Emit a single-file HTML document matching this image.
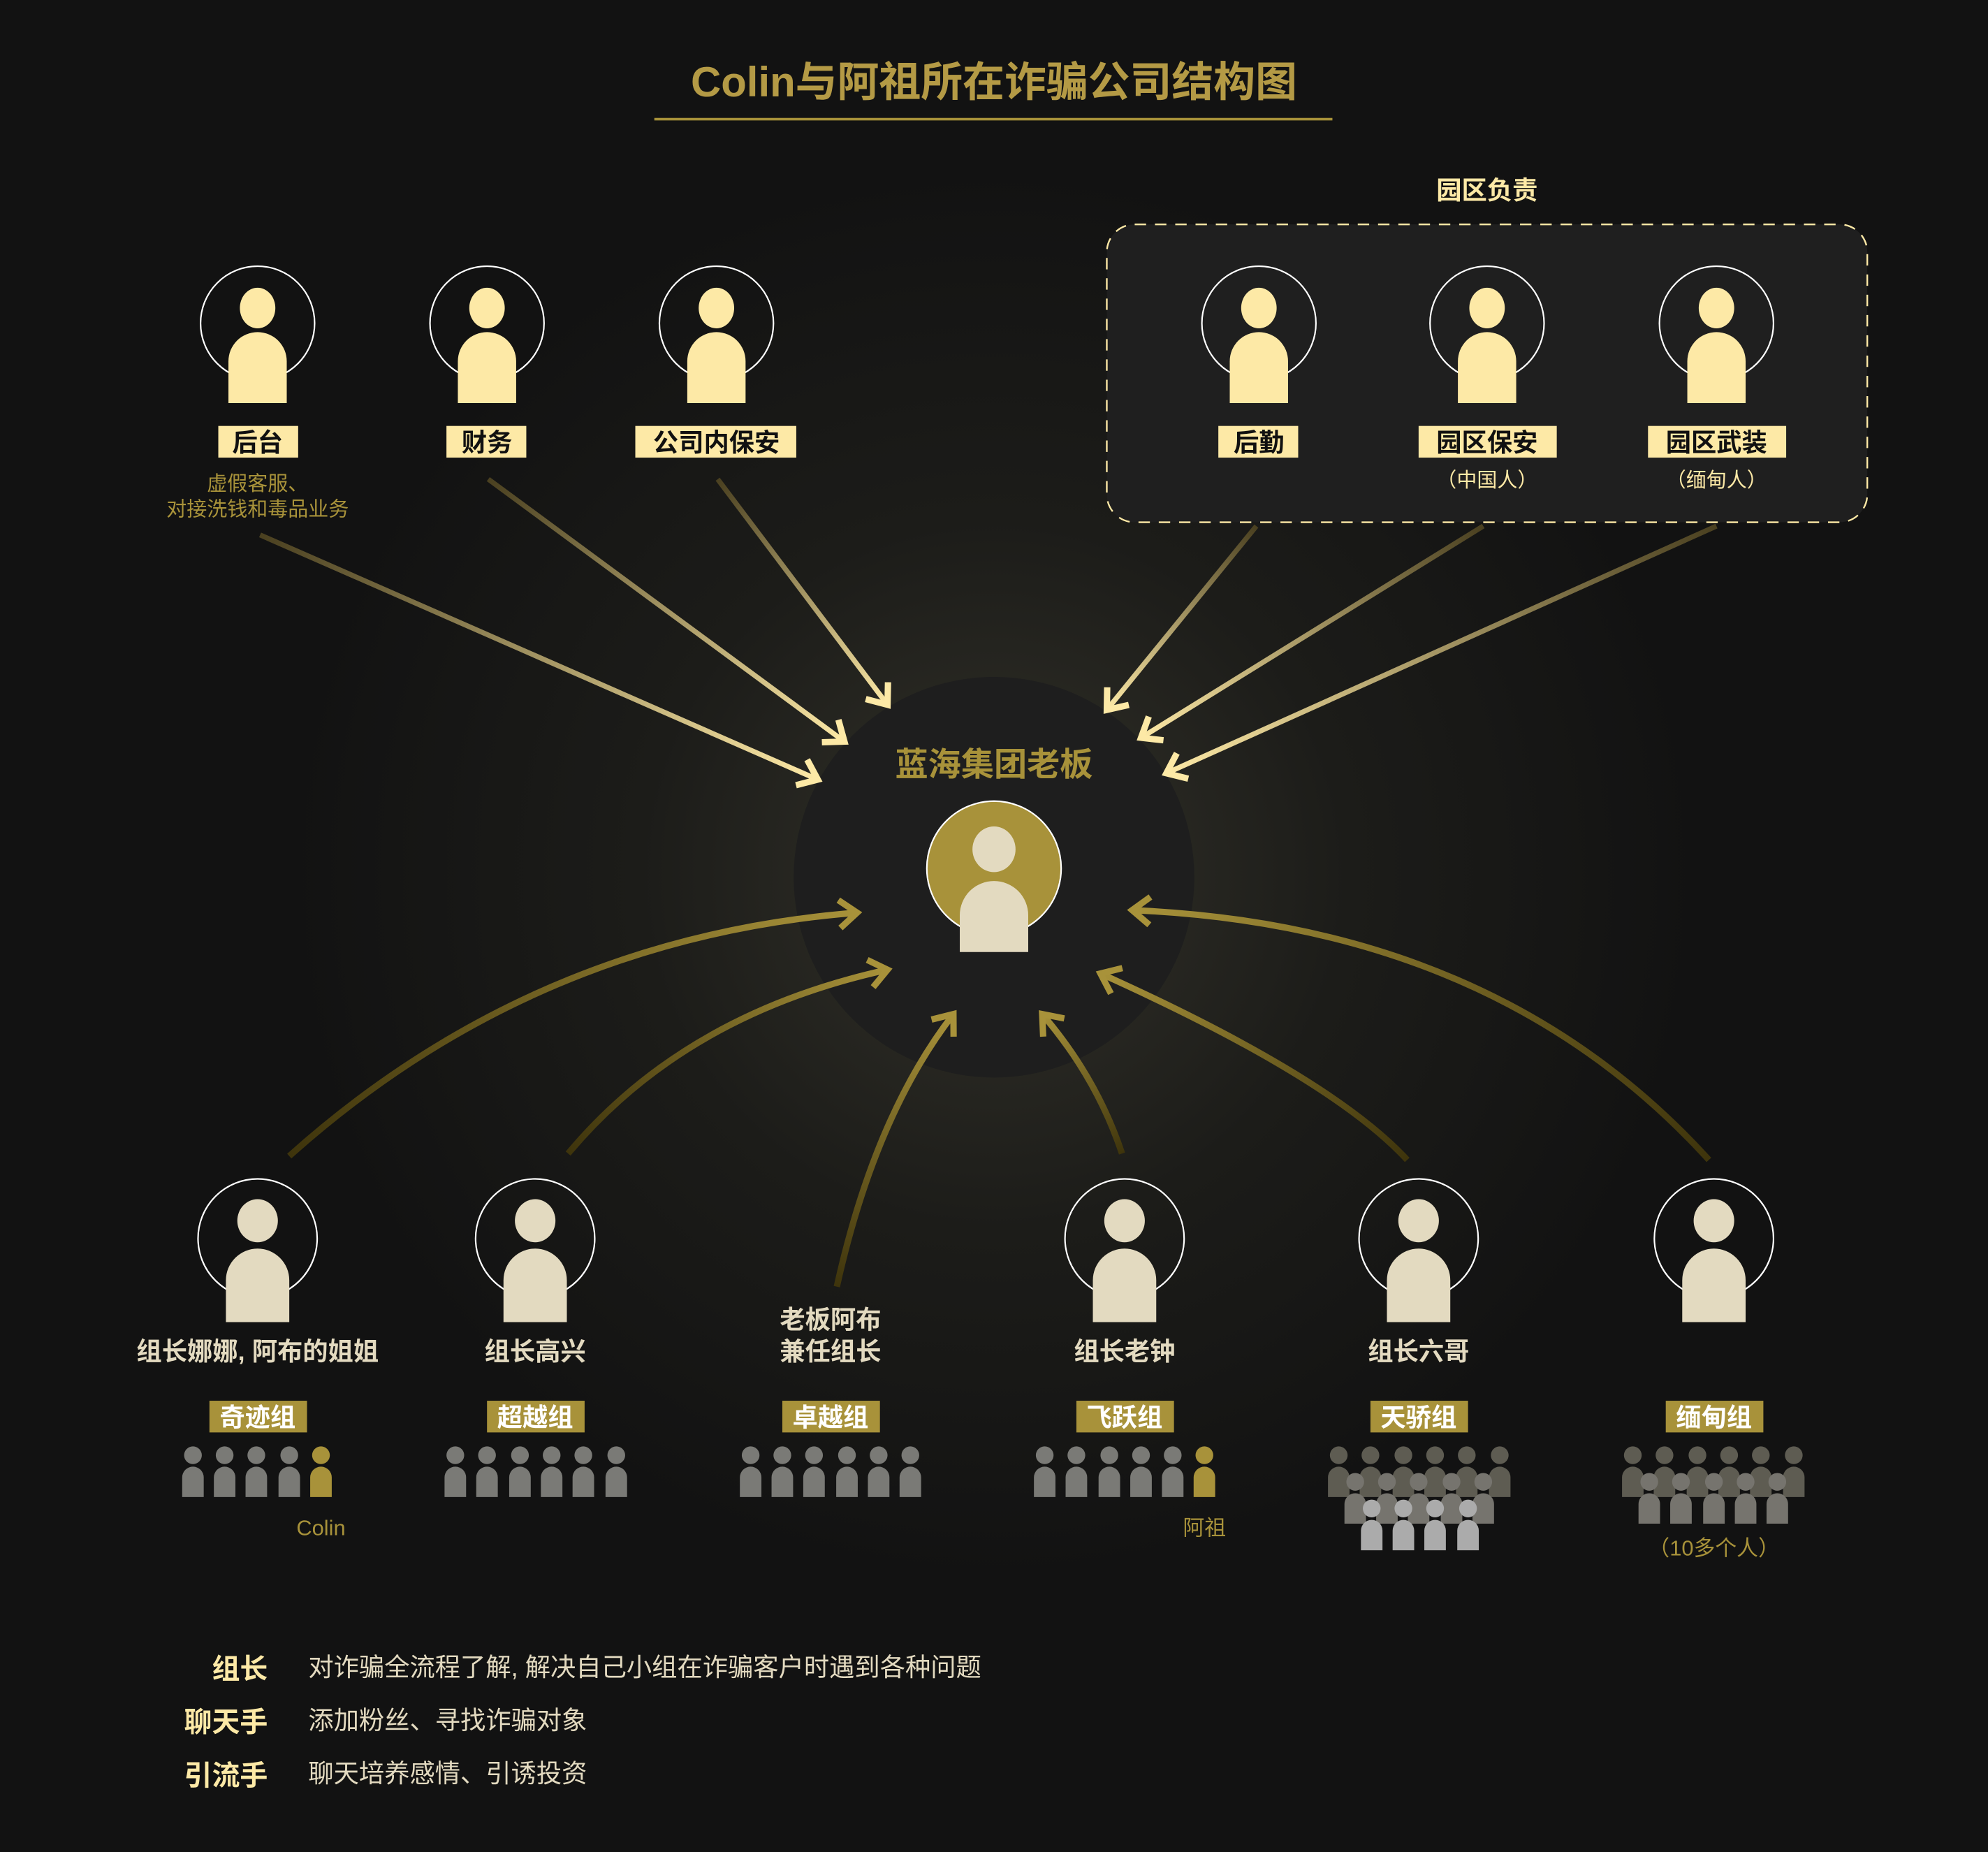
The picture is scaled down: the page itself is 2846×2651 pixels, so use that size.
<!DOCTYPE html>
<html><head><meta charset="utf-8"><style>html,body{margin:0;padding:0;background:#121212}svg{display:block}</style></head>
<body>
<svg width="2846" height="2651" viewBox="0 0 1568 1461" xmlns="http://www.w3.org/2000/svg" font-family="'Liberation Sans','Noto Sans CJK SC',sans-serif">
<defs>
<radialGradient id="glow" cx="784" cy="690" r="560" gradientUnits="userSpaceOnUse">
<stop offset="0" stop-color="#33322a"/><stop offset="0.5" stop-color="#1c1c19"/><stop offset="1" stop-color="#121212"/>
</radialGradient>
<g id="pT"><circle r="45" fill="none" stroke="#fff" stroke-width="1.2"/><ellipse cy="-12" rx="14" ry="16" fill="#fde9a6"/><path d="M-23,63 V30 A23,23 0 0 1 23,30 V63 Z" fill="#fde9a6"/></g>
<g id="pB"><circle r="47" fill="none" stroke="#fff" stroke-width="1.2"/><ellipse cy="-14" rx="16" ry="17" fill="#e3dac0"/><path d="M-25,66 V33 A25,25 0 0 1 25,33 V66 Z" fill="#e3dac0"/></g>
<g id="sp"><circle r="7"/><path d="M-8.5,33 V17.5 A8.5,8.5 0 0 1 8.5,17.5 V33 Z"/></g>
<marker id="mY" markerUnits="userSpaceOnUse" markerWidth="40" markerHeight="40" refX="0" refY="0" viewBox="-20 -20 40 40" orient="auto" overflow="visible"><path d="M-14,-11 L0,0 L-14,11" fill="none" stroke="#fde9a6" stroke-width="5"/></marker>
<marker id="mG" markerUnits="userSpaceOnUse" markerWidth="40" markerHeight="40" refX="0" refY="0" viewBox="-20 -20 40 40" orient="auto" overflow="visible"><path d="M-14,-11 L0,0 L-14,11" fill="none" stroke="#a8923a" stroke-width="5"/></marker>
<linearGradient id="t1" gradientUnits="userSpaceOnUse" x1="205" y1="422" x2="645" y2="615"><stop offset="0" stop-color="#4a4020"/><stop offset="1" stop-color="#fde9a6"/></linearGradient>
<linearGradient id="t2" gradientUnits="userSpaceOnUse" x1="385" y1="378" x2="666" y2="585"><stop offset="0" stop-color="#4a4020"/><stop offset="1" stop-color="#fde9a6"/></linearGradient>
<linearGradient id="t3" gradientUnits="userSpaceOnUse" x1="566" y1="378" x2="700" y2="556"><stop offset="0" stop-color="#4a4020"/><stop offset="1" stop-color="#fde9a6"/></linearGradient>
<linearGradient id="t4" gradientUnits="userSpaceOnUse" x1="991" y1="415" x2="873" y2="560"><stop offset="0" stop-color="#4a4020"/><stop offset="1" stop-color="#fde9a6"/></linearGradient>
<linearGradient id="t5" gradientUnits="userSpaceOnUse" x1="1170" y1="415" x2="900" y2="582"><stop offset="0" stop-color="#4a4020"/><stop offset="1" stop-color="#fde9a6"/></linearGradient>
<linearGradient id="t6" gradientUnits="userSpaceOnUse" x1="1354" y1="415" x2="920" y2="610"><stop offset="0" stop-color="#4a4020"/><stop offset="1" stop-color="#fde9a6"/></linearGradient>
<linearGradient id="b1" gradientUnits="userSpaceOnUse" x1="228" y1="912" x2="676" y2="720"><stop offset="0" stop-color="#3e340c"/><stop offset="1" stop-color="#a8923a"/></linearGradient>
<linearGradient id="b2" gradientUnits="userSpaceOnUse" x1="448" y1="910" x2="700" y2="765"><stop offset="0" stop-color="#3e340c"/><stop offset="1" stop-color="#a8923a"/></linearGradient>
<linearGradient id="b3" gradientUnits="userSpaceOnUse" x1="660" y1="1015" x2="752" y2="800"><stop offset="0" stop-color="#3e340c"/><stop offset="1" stop-color="#a8923a"/></linearGradient>
<linearGradient id="b4" gradientUnits="userSpaceOnUse" x1="885" y1="910" x2="822" y2="800"><stop offset="0" stop-color="#3e340c"/><stop offset="1" stop-color="#a8923a"/></linearGradient>
<linearGradient id="b5" gradientUnits="userSpaceOnUse" x1="1110" y1="915" x2="868" y2="768"><stop offset="0" stop-color="#3e340c"/><stop offset="1" stop-color="#a8923a"/></linearGradient>
<linearGradient id="b6" gradientUnits="userSpaceOnUse" x1="1348" y1="915" x2="893" y2="718"><stop offset="0" stop-color="#3e340c"/><stop offset="1" stop-color="#a8923a"/></linearGradient>
</defs>
<rect width="1568" height="1461" fill="#121212"/>
<rect width="1568" height="1461" fill="url(#glow)"/>

<text x="784" y="76" text-anchor="middle" font-size="33" font-weight="bold" fill="#b49a45">Colin与阿祖所在诈骗公司结构图</text>
<line x1="516" y1="94" x2="1051" y2="94" stroke="#a8923a" stroke-width="2"/>

<text x="1173" y="157" text-anchor="middle" font-size="20" font-weight="bold" fill="#fde9a6">园区负责</text>
<rect x="873" y="177" width="600" height="235" rx="22" fill="#1f1f1f" stroke="#fde9a6" stroke-width="1.3" stroke-dasharray="9,7"/>

<circle cx="784" cy="692" r="158" fill="#1e1e1e"/>

<g stroke-width="4" fill="none" marker-end="url(#mY)">
<line x1="205" y1="422" x2="645" y2="615" stroke="url(#t1)"/>
<line x1="385" y1="378" x2="666" y2="585" stroke="url(#t2)"/>
<line x1="566" y1="378" x2="700" y2="556" stroke="url(#t3)"/>
<line x1="991" y1="415" x2="873" y2="560" stroke="url(#t4)"/>
<line x1="1170" y1="415" x2="900" y2="582" stroke="url(#t5)"/>
<line x1="1354" y1="415" x2="920" y2="610" stroke="url(#t6)"/>
</g>
<g stroke-width="5" fill="none" marker-end="url(#mG)">
<path d="M228,912 Q420,740 676,720" stroke="url(#b1)"/>
<path d="M448,910 Q540,800 700,765" stroke="url(#b2)"/>
<path d="M660,1015 Q690,880 752,800" stroke="url(#b3)"/>
<path d="M885,910 Q865,850 822,800" stroke="url(#b4)"/>
<path d="M1110,915 Q1050,850 868,768" stroke="url(#b5)"/>
<path d="M1348,915 Q1180,730 893,718" stroke="url(#b6)"/>
</g>

<text x="784" y="612" text-anchor="middle" font-size="26" font-weight="bold" fill="#a8923a">蓝海集团老板</text>
<circle cx="784" cy="685" r="53" fill="#a8923a" stroke="#fff" stroke-width="1.2"/>
<ellipse cx="784" cy="670" rx="17" ry="18" fill="#e3dac0"/>
<path d="M757,751 V722 A27,27 0 0 1 811,722 V751 Z" fill="#e3dac0"/>

<use href="#pT" x="203" y="255"/><use href="#pT" x="384" y="255"/><use href="#pT" x="565" y="255"/>
<use href="#pT" x="993" y="255"/><use href="#pT" x="1173" y="255"/><use href="#pT" x="1354" y="255"/>
<g fill="#fde9a6">
<rect x="172" y="336" width="63" height="25"/><rect x="352" y="336" width="63" height="25"/><rect x="501" y="336" width="127" height="25"/>
<rect x="961" y="336" width="63" height="25"/><rect x="1119" y="336" width="109" height="25"/><rect x="1300" y="336" width="109" height="25"/>
</g>
<g font-size="20" font-weight="bold" fill="#111" text-anchor="middle">
<text x="203" y="356">后台</text><text x="384" y="356">财务</text><text x="565" y="356">公司内保安</text>
<text x="993" y="356">后勤</text><text x="1173" y="356">园区保安</text><text x="1354" y="356">园区武装</text>
</g>
<g font-size="16" fill="#a8923a" text-anchor="middle">
<text x="203" y="387">虚假客服、</text><text x="203" y="407">对接洗钱和毒品业务</text>
</g>
<g font-size="16" fill="#fde9a6" text-anchor="middle">
<text x="1173" y="384">（中国人）</text><text x="1354" y="384">（缅甸人）</text>
</g>

<use href="#pB" x="203" y="977"/><use href="#pB" x="422" y="977"/><use href="#pB" x="887" y="977"/><use href="#pB" x="1119" y="977"/><use href="#pB" x="1352" y="977"/>
<g font-size="20" font-weight="bold" fill="#e3dac0" text-anchor="middle">
<text x="203" y="1073">组长娜娜, 阿布的姐姐</text><text x="422" y="1073">组长高兴</text>
<text x="655" y="1048">老板阿布</text><text x="655" y="1073">兼任组长</text>
<text x="887" y="1073">组长老钟</text><text x="1119" y="1073">组长六哥</text>
</g>
<g fill="#a8923a">
<rect x="165" y="1105" width="77" height="25"/><rect x="384" y="1105" width="77" height="25"/><rect x="617" y="1105" width="77" height="25"/>
<rect x="849" y="1105" width="77" height="25"/><rect x="1081" y="1105" width="77" height="25"/><rect x="1314" y="1105" width="77" height="25"/>
</g>
<g font-size="20" font-weight="bold" fill="#fff" text-anchor="middle">
<text x="203" y="1125">奇迹组</text><text x="422" y="1125">超越组</text><text x="655" y="1125">卓越组</text>
<text x="887" y="1125">飞跃组</text><text x="1119" y="1125">天骄组</text><text x="1352" y="1125">缅甸组</text>
</g>

<g fill="#7a7a76">
<use href="#sp" x="152" y="1148"/><use href="#sp" x="177" y="1148"/><use href="#sp" x="202" y="1148"/><use href="#sp" x="228" y="1148"/>
<use href="#sp" x="359" y="1148"/><use href="#sp" x="384" y="1148"/><use href="#sp" x="410" y="1148"/><use href="#sp" x="435" y="1148"/><use href="#sp" x="460" y="1148"/><use href="#sp" x="486" y="1148"/>
<use href="#sp" x="592" y="1148"/><use href="#sp" x="617" y="1148"/><use href="#sp" x="642" y="1148"/><use href="#sp" x="668" y="1148"/><use href="#sp" x="693" y="1148"/><use href="#sp" x="718" y="1148"/>
<use href="#sp" x="824" y="1148"/><use href="#sp" x="849" y="1148"/><use href="#sp" x="875" y="1148"/><use href="#sp" x="900" y="1148"/><use href="#sp" x="925" y="1148"/>
</g>
<g fill="#a8923a"><use href="#sp" x="253" y="1148"/><use href="#sp" x="950" y="1148"/></g>
<g fill="#5e5c52">
<use href="#sp" x="1056" y="1148"/><use href="#sp" x="1081" y="1148"/><use href="#sp" x="1107" y="1148"/><use href="#sp" x="1132" y="1148"/><use href="#sp" x="1157" y="1148"/><use href="#sp" x="1183" y="1148"/>
<use href="#sp" x="1288" y="1148"/><use href="#sp" x="1313" y="1148"/><use href="#sp" x="1339" y="1148"/><use href="#sp" x="1364" y="1148"/><use href="#sp" x="1389" y="1148"/><use href="#sp" x="1415" y="1148"/>
</g>
<g fill="#76746e">
<use href="#sp" x="1069" y="1169"/><use href="#sp" x="1094" y="1169"/><use href="#sp" x="1119" y="1169"/><use href="#sp" x="1145" y="1169"/><use href="#sp" x="1170" y="1169"/>
<use href="#sp" x="1301" y="1169"/><use href="#sp" x="1326" y="1169"/><use href="#sp" x="1352" y="1169"/><use href="#sp" x="1377" y="1169"/><use href="#sp" x="1402" y="1169"/>
</g>
<g fill="#ababab">
<use href="#sp" x="1082" y="1190"/><use href="#sp" x="1107" y="1190"/><use href="#sp" x="1132" y="1190"/><use href="#sp" x="1158" y="1190"/>
</g>
<g font-size="17" fill="#a8923a" text-anchor="middle">
<text x="253" y="1211">Colin</text><text x="950" y="1211">阿祖</text><text x="1352" y="1227">（10多个人）</text>
</g>

<g font-size="22" font-weight="bold" fill="#fde9a6" text-anchor="end">
<text x="211" y="1324">组长</text><text x="211" y="1366">聊天手</text><text x="211" y="1408">引流手</text>
</g>
<g font-size="20" fill="#e3dac0">
<text x="243" y="1322">对诈骗全流程了解, 解决自己小组在诈骗客户时遇到各种问题</text>
<text x="243" y="1364">添加粉丝、寻找诈骗对象</text>
<text x="243" y="1406">聊天培养感情、引诱投资</text>
</g>
</svg>
</body></html>
